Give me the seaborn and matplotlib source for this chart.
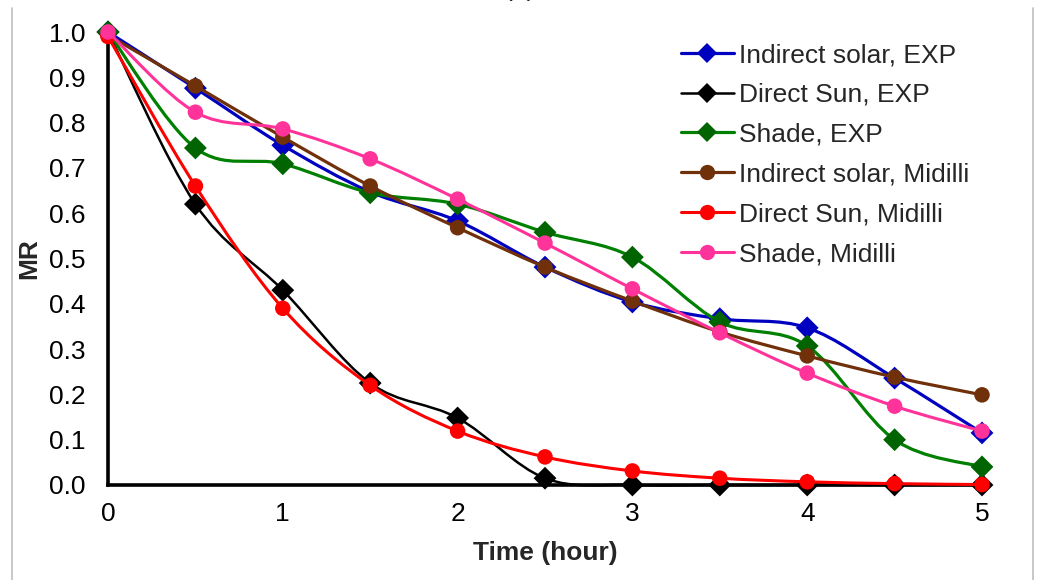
import numpy as np
import matplotlib
matplotlib.use("Agg")
import matplotlib.pyplot as plt
import seaborn as sns
from matplotlib.path import Path
from matplotlib.patches import PathPatch
from matplotlib.lines import Line2D

# Moisture ratio vs drying time
time_h = [0, 0.5, 1, 1.5, 2, 2.5, 3, 3.5, 4, 4.5, 5]

indirect_exp = [1.0, 0.876, 0.75, 0.647, 0.583, 0.481, 0.404, 0.367, 0.347, 0.236, 0.115]
direct_exp = [1.0, 0.62, 0.43, 0.225, 0.148, 0.015, 0.0, 0.0, 0.0, 0.0, 0.0]
shade_exp = [1.0, 0.744, 0.709, 0.645, 0.62, 0.558, 0.503, 0.36, 0.307, 0.10, 0.04]
indirect_mid = [0.993, 0.881, 0.768, 0.66, 0.568, 0.481, 0.406, 0.338, 0.285, 0.238, 0.199]
direct_mid = [0.99, 0.66, 0.39, 0.22, 0.119, 0.062, 0.031, 0.015, 0.007, 0.003, 0.001]
shade_mid = [1.0, 0.823, 0.786, 0.72, 0.631, 0.534, 0.433, 0.336, 0.247, 0.174, 0.119]

labels = ["Indirect solar, EXP", "Direct Sun, EXP", "Shade, EXP",
          "Indirect solar, Midilli", "Direct Sun, Midilli", "Shade, Midilli"]
series = [indirect_exp, direct_exp, shade_exp, indirect_mid, direct_mid, shade_mid]
line_colors = ["#0000C0", "#000000", "#008000", "#70300A", "#FF0000", "#FF3399"]
marker_colors = ["#0000C0", "#000000", "#006400", "#70300A", "#FF0000", "#FF3399"]
line_widths = [2.3, 1.8, 2.3, 2.3, 2.2, 2.2]
markers = ["D", "D", "D", "o", "o", "o"]

sns.set_theme(style="white")
plt.rcParams["font.family"] = ["Liberation Sans", "DejaVu Sans"]

fig = plt.figure(figsize=(10.43, 5.8), dpi=100)
ax = fig.add_axes([108 / 1043, 95 / 580, (982 - 108) / 1043, (485 - 32) / 580])


def smooth_path(xs, ys):
    """Cubic Bezier path through the points (Catmull-Rom style smoothing)."""
    pts = np.column_stack([xs, ys]).astype(float)
    n = len(pts)
    verts = [pts[0]]
    codes = [Path.MOVETO]
    for i in range(n - 1):
        p0 = pts[i - 1] if i > 0 else pts[i]
        p1 = pts[i]
        p2 = pts[i + 1]
        p3 = pts[i + 2] if i + 2 < n else pts[i + 1]
        c1 = p1 + (p2 - p0) / 6.0
        c2 = p2 - (p3 - p1) / 6.0
        verts += [c1, c2, p2]
        codes += [Path.CURVE4] * 3
    return Path(verts, codes)


handles = []
for i, (vals, lab) in enumerate(zip(series, labels)):
    z = 3 + i * 0.1
    patch = PathPatch(smooth_path(time_h, vals), fill=False, edgecolor=line_colors[i],
                      lw=line_widths[i], transform=ax.transData, clip_on=False, zorder=z)
    ax.add_patch(patch)
    msize = 135 if markers[i] == "D" else 125
    sns.scatterplot(x=time_h, y=vals, ax=ax, marker=markers[i], s=msize,
                    color=marker_colors[i], edgecolor="none", linewidth=0,
                    clip_on=False, zorder=z + 0.05, legend=False)
    handles.append(Line2D([0], [0], color=line_colors[i], lw=line_widths[i], marker=markers[i],
                          markersize=10.5 if markers[i] == "D" else 11,
                          markerfacecolor=marker_colors[i], markeredgewidth=0, label=lab))

ax.set_xlim(0, 5)
ax.set_ylim(0, 1.0)
ax.set_xticks(range(0, 6))
ax.set_yticks(np.round(np.arange(0, 1.01, 0.1), 1))
ax.set_yticklabels([f"{v:.1f}" for v in np.arange(0, 1.01, 0.1)])
ax.tick_params(axis="both", length=0, labelsize=19, colors="black")
ax.tick_params(axis="y", pad=16)
ax.tick_params(axis="x", pad=12)

for side in ["top", "right"]:
    ax.spines[side].set_visible(False)
for side in ["left", "bottom"]:
    ax.spines[side].set_color("black")
    ax.spines[side].set_linewidth(2.6)
    ax.spines[side].set_zorder(2.9)

ax.set_xlabel("Time (hour)", fontsize=19, fontweight="bold", labelpad=11)
ax.set_ylabel("MR", fontsize=19, fontweight="bold", labelpad=6)
ax.patch.set_alpha(0)

fig.legend(handles=handles, loc="upper left", bbox_to_anchor=(681 / 1043, 1 - 43 / 580),
           frameon=False, fontsize=19, handlelength=2.0, handletextpad=0.2,
           labelspacing=0.6, borderpad=0, borderaxespad=0)

# Outer frame and panel title
for xpix in (12, 1033):
    fig.add_artist(Line2D([xpix / 1043, xpix / 1043], [0, 1 - 8 / 580],
                          transform=fig.transFigure, color="#BFBFBF", lw=1.2))
fig.text(520 / 1043, 1.0 + 4 / 580, "(a)", ha="center", va="baseline", fontsize=19)

fig.savefig("out.png", dpi=100, facecolor="white")
